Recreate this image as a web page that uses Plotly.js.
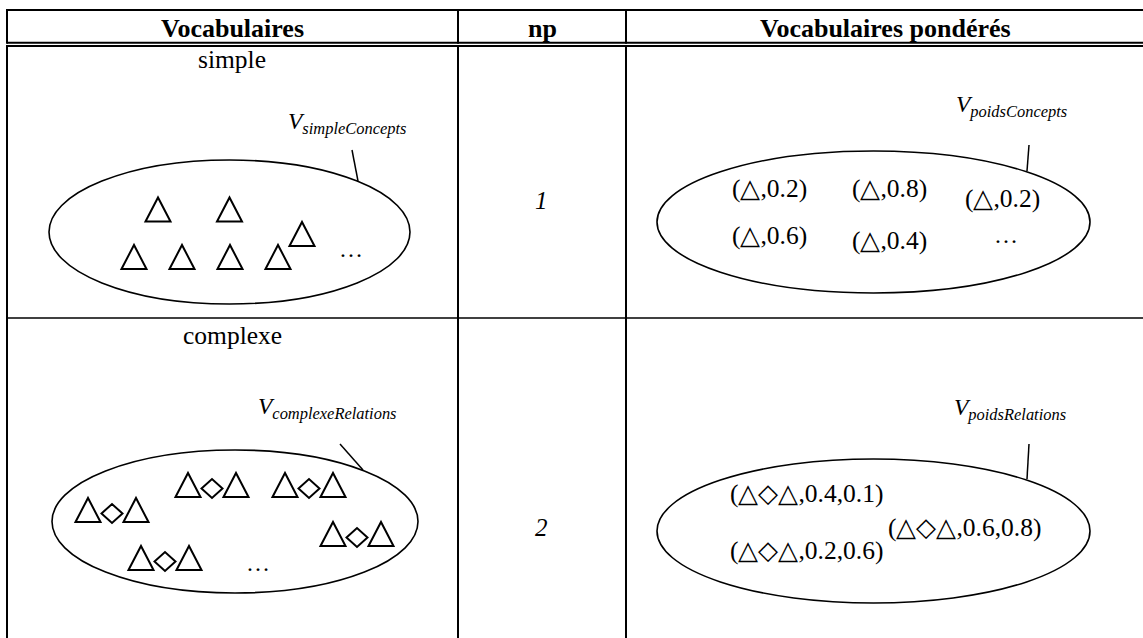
<!DOCTYPE html>
<html>
<head>
<meta charset="utf-8">
<script src="https://cdn.plot.ly/plotly-3.0.1.min.js"></script>
<style>html,body{margin:0;padding:0;background:#fff;}#chart{width:1143px;height:638px;}</style>
</head>
<body>
<div id="chart"></div>
<script>
// ---------- data ----------
const headers = ['Vocabulaires', 'np', 'Vocabulaires pondérés'];
const vocabTypes = ['simple', 'complexe'];
const npValues = ['1', '2'];
const vocabNames = ['simpleConcepts', 'complexeRelations'];
const weightedNames = ['poidsConcepts', 'poidsRelations'];
const conceptWeights = [0.2, 0.8, 0.2, 0.6, 0.4];
const relationWeightsA = [0.4, 0.6, 0.2];
const relationWeightsB = [0.1, 0.8, 0.6];
const simpleConceptCount = 7;
const complexRelationCount = 5;

// ---------- layout positions (pixel space) ----------
const FONT = '"Liberation Serif", "Times New Roman", serif';
const POS = {
  headerX: [232, 542, 885], headerY: 28.5,
  typeX: 232, typeY: [59.5, 335.5],
  npX: 541, npY: [200.5, 527],
  colX: [7, 458, 626],
  rowSep: 318,
  ellipsesL: [[49, 410, 160, 304], [52, 418, 450, 593]],
  ellipsesR: [[657, 1090, 151, 293], [657, 1090, 459, 603]],
  leadL: [[352, 150, 358, 181], [340, 444, 363, 470]],
  leadR: [[1029, 145, 1027, 171], [1029, 444, 1027, 479]],
  labelL: [[286, 123], [256, 408]],
  labelR: [[954, 106], [952, 409]],
  tri: [[158, 209.5], [229.5, 209.5], [134, 257], [182, 257], [230, 257], [278, 257], [302, 234]],
  grp: [[212, 497], [309, 497], [112, 522], [357, 546], [165, 570]],
  conceptTxt: [[769, 188], [889, 188], [1002, 198], [769, 235], [889, 240]],
  relTxt: [[806, 493], [964, 527], [806, 550]],
  dots: [[351, 249], [1006, 235], [257.5, 563]]
};

const shapes = [];
const ann = [];
function line(x0, y0, x1, y1, w) {
  shapes.push({type: 'line', xref: 'x', yref: 'y', x0, y0, x1, y1, line: {color: '#000', width: w}});
}
// table grid
line(POS.colX[0], 10, 1143, 10, 2);
line(POS.colX[0], 42.7, 1143, 42.7, 2);
line(POS.colX[0], 46, 1143, 46, 2);
line(POS.colX[0], POS.rowSep, 1143, POS.rowSep, 1.4);
POS.colX.forEach(x => { line(x, 9, x, 43.7, 2); line(x, 45, x, 638, 2); });

// ellipses and leader lines
POS.ellipsesL.concat(POS.ellipsesR).forEach(e => {
  shapes.push({type: 'circle', xref: 'x', yref: 'y', x0: e[0], x1: e[1], y0: e[2], y1: e[3],
    line: {color: '#000', width: 1.6}, fillcolor: 'rgba(0,0,0,0)'});
});
POS.leadL.concat(POS.leadR).forEach(l => line(l[0], l[1], l[2], l[3], 1.5));

function tri(cx, cy) {
  shapes.push({type: 'path', xref: 'x', yref: 'y',
    path: `M ${cx - 12.5},${cy + 12} L ${cx},${cy - 12} L ${cx + 12.5},${cy + 12} Z`,
    line: {color: '#000', width: 2}, fillcolor: 'rgba(0,0,0,0)'});
}
function diamond(cx, cy) {
  shapes.push({type: 'path', xref: 'x', yref: 'y',
    path: `M ${cx - 10.5},${cy} L ${cx},${cy - 9.5} L ${cx + 10.5},${cy} L ${cx},${cy + 9.5} Z`,
    line: {color: '#000', width: 2}, fillcolor: 'rgba(0,0,0,0)'});
}
for (let i = 0; i < simpleConceptCount; i++) tri(POS.tri[i][0], POS.tri[i][1]);
for (let i = 0; i < complexRelationCount; i++) {
  const [dx, by] = POS.grp[i];
  tri(dx - 24, by - 12); diamond(dx, by - 8.5); tri(dx + 24, by - 12);
}

function text(x, y, t, size, opts) {
  ann.push(Object.assign({x, y, xref: 'x', yref: 'y', text: t, showarrow: false,
    xanchor: 'center', yanchor: 'middle', font: {family: FONT, size, color: '#000'}}, opts || {}));
}
headers.forEach((h, i) => text(POS.headerX[i], POS.headerY, '<b>' + h + '</b>', 26));
vocabTypes.forEach((t, i) => text(POS.typeX, POS.typeY[i], t, 25.5));
npValues.forEach((n, i) => text(POS.npX, POS.npY[i], '<i>' + n + '</i>', 25));
vocabNames.forEach((n, i) => text(POS.labelL[i][0], POS.labelL[i][1], '<i>V<sub>' + n + '</sub></i>', 23.5, {xanchor: 'left'}));
weightedNames.forEach((n, i) => text(POS.labelR[i][0], POS.labelR[i][1], '<i>V<sub>' + n + '</sub></i>', 23.5, {xanchor: 'left'}));
conceptWeights.forEach((w, i) => text(POS.conceptTxt[i][0], POS.conceptTxt[i][1], '(\u25B3,' + w.toFixed(1) + ')', 25.5));
relationWeightsA.forEach((a, i) => text(POS.relTxt[i][0], POS.relTxt[i][1],
  '(\u25B3\u25C7\u25B3,' + a.toFixed(1) + ',' + relationWeightsB[i].toFixed(1) + ')', 25.5));
POS.dots.forEach(d => text(d[0], d[1], '\u2026', 24));

const layout = {
  width: 1143, height: 638,
  margin: {l: 0, r: 0, t: 0, b: 0, pad: 0},
  paper_bgcolor: '#fff', plot_bgcolor: '#fff',
  xaxis: {range: [0, 1143], visible: false, fixedrange: true},
  yaxis: {range: [638, 0], visible: false, fixedrange: true},
  showlegend: false,
  shapes, annotations: ann
};
Plotly.newPlot('chart', [{x: [0], y: [0], mode: 'markers', marker: {opacity: 0}, hoverinfo: 'skip'}], layout, {displayModeBar: false, staticPlot: true});
</script>
</body>
</html>
